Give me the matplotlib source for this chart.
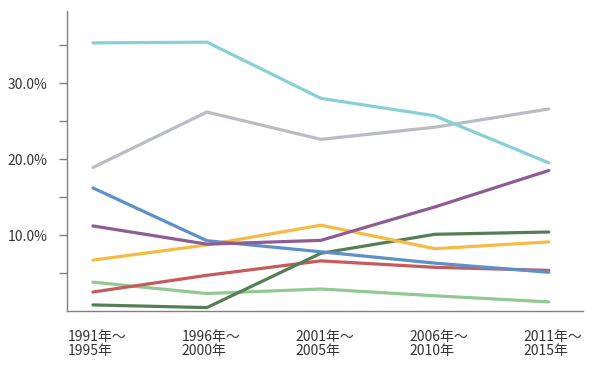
import numpy as np
import matplotlib
matplotlib.use("Agg")
import matplotlib.pyplot as plt
import matplotlib.transforms as mtransforms
from matplotlib.ticker import FixedLocator

plt.rcParams['font.family'] = ['Noto Sans CJK JP', 'DejaVu Sans']

periods = ['1991年～\n1995年', '1996年～\n2000年', '2001年～\n2005年',
           '2006年～\n2010年', '2011年～\n2015年']

cyan = [35.3, 35.4, 28.0, 25.7, 19.5]
gray = [18.9, 26.2, 22.6, 24.2, 26.6]
blue = [16.2, 9.25, 7.8, 6.3, 5.1]
purple = [11.2, 8.8, 9.3, 13.7, 18.5]
yellow = [6.7, 8.7, 11.3, 8.2, 9.1]
red = [2.5, 4.7, 6.6, 5.75, 5.35]
dark_green = [0.8, 0.45, 7.6, 10.1, 10.4]
light_green = [3.8, 2.3, 2.9, 2.0, 1.2]

series = [
    (light_green, '#92c892'),
    (red, '#c75b5b'),
    (dark_green, '#547f54'),
    (yellow, '#f6ba45'),
    (blue, '#5d8fc8'),
    (purple, '#8f5b95'),
    (gray, '#b9bcc3'),
    (cyan, '#88d0d7'),
]

fig = plt.figure(figsize=(6, 3.77), dpi=100)
ax = fig.add_axes([67/600, 1-311/377, (583-67)/600, (311-11)/377])

x = np.arange(len(periods))
for vals, col in series:
    ax.plot(x, vals, color=col, lw=2.3, solid_capstyle='round', solid_joinstyle='round')

ax.set_xlim(-0.228, 4.30)
ax.set_ylim(0, 39.5)

ax.yaxis.set_major_locator(FixedLocator([10, 20, 30]))
ax.yaxis.set_minor_locator(FixedLocator([5, 15, 25, 35]))
ax.set_yticklabels(['10.0%', '20.0%', '30.0%'])
ax.tick_params(axis='y', which='both', length=6, width=1, color='#808080',
               labelsize=10, labelcolor='#333333', pad=8)

ax.set_xticks(x)
ax.set_xticklabels(periods, multialignment='left')
ax.tick_params(axis='x', length=0, labelsize=10, labelcolor='#333333', pad=14)
# nudge labels a little to the right, like the original
shift = mtransforms.ScaledTranslation(4/100, 0, fig.dpi_scale_trans)
for lbl in ax.get_xticklabels():
    lbl.set_linespacing(1.0)
    lbl.set_transform(lbl.get_transform() + shift)

for s in ['top', 'right']:
    ax.spines[s].set_visible(False)
for s in ['left', 'bottom']:
    ax.spines[s].set_color('#808080')
    ax.spines[s].set_linewidth(1)

fig.savefig('out.png', dpi=100)
